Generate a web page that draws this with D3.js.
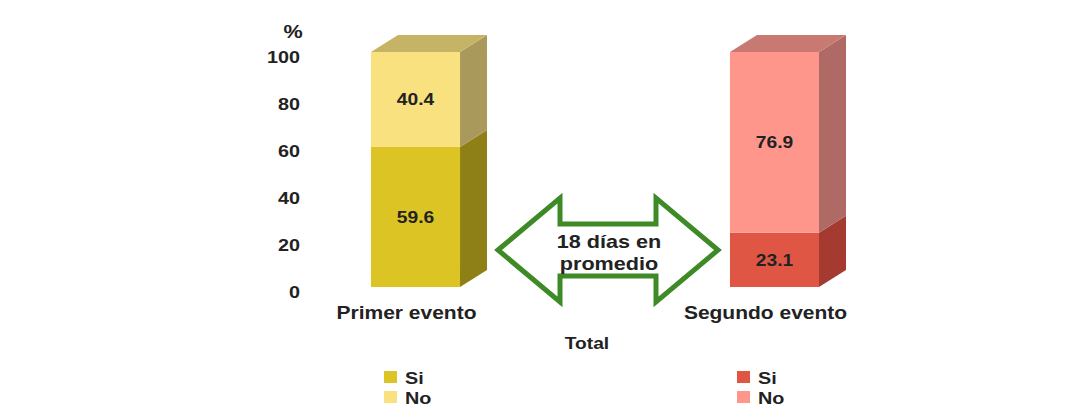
<!DOCTYPE html>
<html><head><meta charset="utf-8">
<script src="https://cdn.jsdelivr.net/npm/d3@7"></script>
<style>body{margin:0;background:#fff}svg{display:block}text{font-family:"Liberation Sans",Arial,sans-serif;font-weight:bold;fill:#222}</style>
</head><body>
<script>
const categories = ["Primer evento", "Segundo evento"];
const siValues = [59.6, 23.1];
const noValues = [40.4, 76.9];
const seriesNames = ["Si", "No"];
const yTicks = [0, 20, 40, 60, 80, 100];
const axisTitle = "%";
const xTitle = "Total";
const arrowText = ["18 días en", "promedio"];

const palettes = [
  {si:{front:"#dcc425",side:"#8e7f16",top:"#b8a53a"}, no:{front:"#f8e17e",side:"#a99a5c",top:"#c6b466"}},
  {si:{front:"#e05645",side:"#a53b30",top:"#c04a3e"}, no:{front:"#fe968c",side:"#b06a66",top:"#c87a72"}}
];

const W=1072,H=408, SX=1.2;
const svg=d3.select("body").append("svg").attr("width",W).attr("height",H);

function label(g,x,y,txt,size,anchor){
  return g.append("text").attr("transform",`translate(${x},${y}) scale(${SX},1)`)
    .attr("text-anchor",anchor||"middle").style("font-size",size+"px").text(txt);
}

const y=d3.scaleLinear().domain([0,100]).range([287,52]);
const x=d3.scaleBand().domain(categories).range([371,819]).paddingInner(0.752).paddingOuter(0);
const dx=27, dy=-17;

// axis
const ax=svg.append("g").attr("transform","translate(300,5)")
  .call(d3.axisLeft(y).tickValues(yTicks).tickSize(0).tickPadding(0));
ax.select(".domain").remove();
ax.selectAll(".tick text").each(function(){
  const t=d3.select(this);
  t.attr("x",null).attr("dy","0.36em").attr("transform",`scale(${SX},1)`)
   .style("font-size","16.5px").style("font-family","'Liberation Sans',Arial,sans-serif").style("font-weight","bold").attr("fill","#222");
});
label(svg,293,38,axisTitle,18);

categories.forEach((c,i)=>{
  const x0=x(c), bw=x.bandwidth();
  const segs=[{v0:0,v1:siValues[i],col:palettes[i].si},{v0:siValues[i],v1:siValues[i]+noValues[i],col:palettes[i].no}];
  const g=svg.append("g");
  segs.forEach((s,k)=>{
    const yt=y(s.v1), yb=y(s.v0);
    g.append("path").attr("d",`M${x0+bw},${yb}L${x0+bw+dx},${yb+dy}L${x0+bw+dx},${yt+dy}L${x0+bw},${yt}Z`).attr("fill",s.col.side);
    g.append("rect").attr("x",x0).attr("y",yt).attr("width",bw).attr("height",yb-yt).attr("fill",s.col.front);
    if(k===segs.length-1){
      g.append("path").attr("d",`M${x0},${yt}L${x0+dx},${yt+dy}L${x0+bw+dx},${yt+dy}L${x0+bw},${yt}Z`).attr("fill",s.col.top);
    }
    label(g,x0+bw/2,(yt+yb)/2+6,d3.format(".1f")(s.v1-s.v0),16);
  });
  label(svg,x0+bw/2-9,319,c,17.5);
});

label(svg,587,349,xTitle,16);

// legends
const legX=[384,737];
categories.forEach((c,i)=>{
  [palettes[i].si,palettes[i].no].forEach((col,k)=>{
    svg.append("rect").attr("x",legX[i]).attr("y",371+k*20).attr("width",13).attr("height",12).attr("fill",col.front);
    label(svg,legX[i]+21,384+k*20,seriesNames[k],16.5,"start");
  });
});

// double arrow
const ax0=498, ax1=718, hl=62, cy=250, sh=26, hh=52;
const arrow=`M${ax0},${cy}L${ax0+hl},${cy-hh}L${ax0+hl},${cy-sh}L${ax1-hl},${cy-sh}L${ax1-hl},${cy-hh}L${ax1},${cy}L${ax1-hl},${cy+hh}L${ax1-hl},${cy+sh}L${ax0+hl},${cy+sh}L${ax0+hl},${cy+hh}Z`;
svg.append("path").attr("d",arrow).attr("fill","#fff").attr("stroke","#3d8a27").attr("stroke-width",5).attr("stroke-linejoin","miter");
arrowText.forEach((t,k)=>{
  label(svg,609,248+k*22,t,18);
});
</script>
</body></html>
